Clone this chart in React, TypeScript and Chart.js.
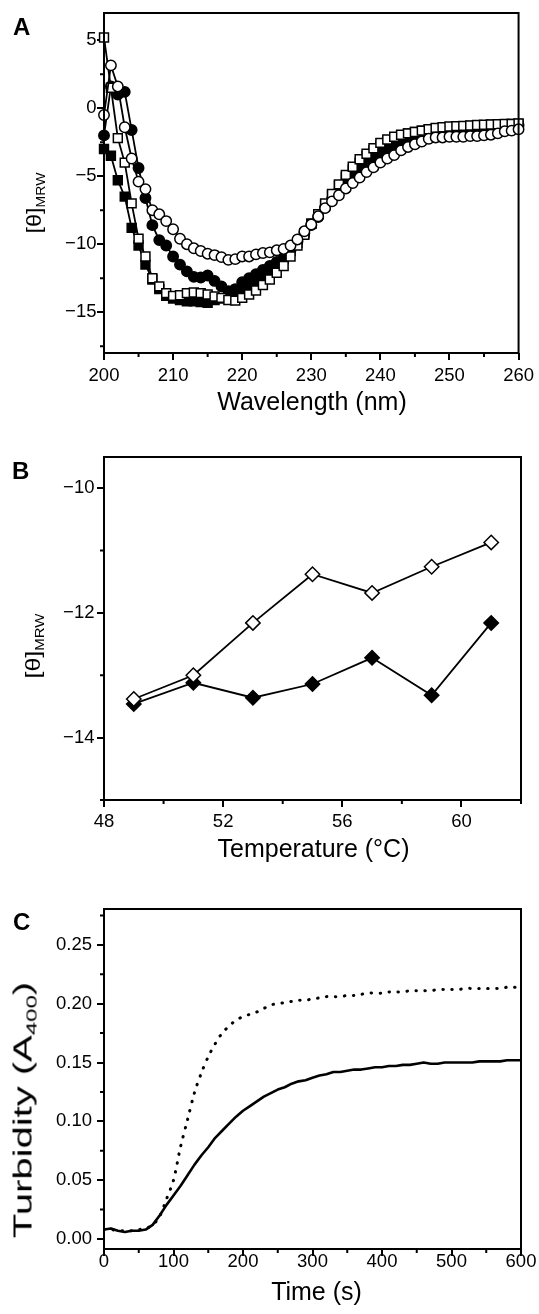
import React, { useEffect, useRef } from 'react';
import { Chart, registerables } from 'chart.js';

Chart.register(...registerables);

// ---------------- Panel A data ----------------
const WAVELENGTH = [
  200, 201, 202, 203, 204, 205, 206, 207, 208, 209,
  210, 211, 212, 213, 214, 215, 216, 217, 218, 219,
  220, 221, 222, 223, 224, 225, 226, 227, 228, 229,
  230, 231, 232, 233, 234, 235, 236, 237, 238, 239,
  240, 241, 242, 243, 244, 245, 246, 247, 248, 249,
  250, 251, 252, 253, 254, 255, 256, 257, 258, 259, 260,
];
const OPEN_CIRCLES = [
  -0.5, 3.15, 1.6, -1.4, -3.7, -5.4, -5.95, -7.5, -7.8, -8.3,
  -8.9, -9.6, -10.0, -10.3, -10.5, -10.7, -10.8, -10.95, -11.15, -11.1,
  -10.9, -10.9, -10.75, -10.65, -10.6, -10.45, -10.35, -10.1, -9.65, -9.05,
  -8.55, -7.95, -7.35, -6.85, -6.4, -5.9, -5.5, -5.1, -4.7, -4.35,
  -4.0, -3.7, -3.45, -3.1, -2.85, -2.65, -2.45, -2.25, -2.15, -2.15,
  -2.1, -2.1, -2.1, -2.05, -2.05, -2.0, -1.95, -1.85, -1.7, -1.65, -1.55,
];
const FILLED_CIRCLES = [
  -2.0, 1.6, 1.0, 1.2, -1.6, -4.4, -6.6, -8.6, -9.7, -10.1,
  -10.9, -11.5, -12.0, -12.4, -12.45, -12.3, -12.7, -13.1, -13.45, -13.3,
  -12.8, -12.5, -12.2, -11.9, -11.6, -11.3, -11.0, -10.4, -9.8, -9.2,
  -8.6, -8.0, -7.3, -6.7, -6.1, -5.5, -5.0, -4.5, -4.1, -3.7,
  -3.4, -3.1, -2.8, -2.6, -2.4, -2.2, -2.0, -1.9, -1.8, -1.7,
  -1.6, -1.55, -1.5, -1.5, -1.45, -1.4, -1.4, -1.35, -1.3, -1.3, -1.25,
];
const OPEN_SQUARES = [
  5.2, 1.5, -2.2, -4.0, -7.0, -9.6, -10.9, -12.5, -13.1, -13.6,
  -13.8, -13.75, -13.6, -13.55, -13.6, -13.7, -13.85, -13.95, -14.1, -14.15,
  -13.95, -13.7, -13.4, -13.0, -12.6, -12.1, -11.6, -10.9, -10.1, -9.3,
  -8.5, -7.8, -7.0, -6.3, -5.6, -4.9, -4.3, -3.75, -3.35, -2.95,
  -2.55, -2.3, -2.1, -1.95, -1.85, -1.75, -1.65, -1.55, -1.45, -1.4,
  -1.35, -1.32, -1.3, -1.27, -1.24, -1.22, -1.2, -1.18, -1.16, -1.15, -1.12,
];
const FILLED_SQUARES = [
  -3.0, -3.5, -5.3, -6.5, -8.8, -10.1, -11.5, -12.6, -13.3, -13.8,
  -14.0, -14.1, -14.2, -14.2, -14.25, -14.3, -14.1, -14.0, -13.9, -13.7,
  -13.4, -13.1, -12.8, -12.4, -12.0, -11.6, -11.1, -10.5, -9.9, -9.2,
  -8.5, -7.8, -7.1, -6.4, -5.7, -5.1, -4.5, -4.0, -3.5, -3.1,
  -2.75, -2.45, -2.2, -2.0, -1.85, -1.75, -1.65, -1.55, -1.5, -1.45,
  -1.4, -1.35, -1.32, -1.3, -1.28, -1.25, -1.22, -1.2, -1.18, -1.16, -1.15,
];
const A_X_TICKS = [200, 210, 220, 230, 240, 250, 260];
const A_X_MINOR = [205, 215, 225, 235, 245, 255];
const A_Y_TICKS = [-15, -10, -5, 0, 5];
const A_Y_MINOR = [-17.5, -12.5, -7.5, -2.5, 2.5];

// ---------------- Panel B data ----------------
const TEMPERATURE = [49, 51, 53, 55, 57, 59, 61];
const OPEN_DIAMONDS = [-13.38, -13.0, -12.16, -11.38, -11.68, -11.26, -10.87];
const FILLED_DIAMONDS = [-13.46, -13.12, -13.36, -13.14, -12.72, -13.32, -12.16];
const B_X_TICKS = [48, 52, 56, 60];
const B_X_MINOR = [50, 54, 58, 62];
const B_Y_TICKS = [-14, -12, -10];
const B_Y_MINOR = [-15, -13, -11];

// ---------------- Panel C data ----------------
const TIME = [
  0, 10, 20, 30, 40, 50, 60, 70, 80, 90,
  100, 110, 120, 130, 140, 150, 160, 170, 180, 190,
  200, 210, 220, 230, 240, 250, 260, 270, 280, 290,
  300, 310, 320, 330, 340, 350, 360, 370, 380, 390,
  400, 410, 420, 430, 440, 450, 460, 470, 480, 490,
  500, 510, 520, 530, 540, 550, 560, 570, 580, 590, 600,
];
const TURBIDITY_SOLID = [
  0.008, 0.009, 0.007, 0.006, 0.007, 0.007, 0.008, 0.012, 0.020, 0.029,
  0.037, 0.045, 0.054, 0.063, 0.071, 0.078, 0.086, 0.092, 0.098, 0.104,
  0.109, 0.113, 0.117, 0.121, 0.124, 0.127, 0.129, 0.132, 0.134, 0.135,
  0.137, 0.139, 0.140, 0.142, 0.142, 0.143, 0.144, 0.144, 0.145, 0.146,
  0.146, 0.147, 0.147, 0.148, 0.148, 0.149, 0.150, 0.149, 0.149, 0.150,
  0.150, 0.150, 0.150, 0.150, 0.151, 0.151, 0.151, 0.151, 0.152, 0.152, 0.152,
];
const TURBIDITY_DOTTED = [
  0.008, 0.008, 0.007, 0.007, 0.007, 0.008, 0.009, 0.012, 0.019, 0.034,
  0.050, 0.078, 0.101, 0.124, 0.141, 0.155, 0.166, 0.175, 0.181, 0.186,
  0.189, 0.191, 0.193, 0.196, 0.199, 0.200, 0.201, 0.202, 0.203, 0.203,
  0.204, 0.205, 0.206, 0.206, 0.206, 0.207, 0.207, 0.208, 0.209, 0.209,
  0.209, 0.210, 0.210, 0.210, 0.211, 0.211, 0.211, 0.211, 0.212, 0.212,
  0.212, 0.212, 0.213, 0.213, 0.213, 0.213, 0.213, 0.213, 0.214, 0.214, 0.214,
];
const C_X_TICKS = [0, 100, 200, 300, 400, 500, 600];
const C_X_MINOR = [50, 150, 250, 350, 450, 550];
const C_Y_TICKS = [0, 0.05, 0.1, 0.15, 0.2, 0.25];
const C_Y_MINOR = [0.025, 0.075, 0.125, 0.175, 0.225, 0.275];

// ---------------- helpers ----------------
const FONT = '"Liberation Sans", Arial, Helvetica, sans-serif';
const TICK_FONT = { family: FONT, size: 18.5 };
const W = 539;

const minusFmt = (v: number) => (v < 0 ? '\u2212' + Math.abs(v) : String(v));

const GRID = {
  display: true,
  drawOnChartArea: false,
  drawTicks: true,
  tickLength: 7,
  tickWidth: 2,
  tickColor: '#000',
  color: '#000',
  lineWidth: 2,
};

function makeFrame(xMinor: number[], yMinor: number[]) {
  return {
    id: 'frameMinor',
    afterDatasetsDraw(chart: any) {
      const { ctx, chartArea: a, scales } = chart;
      ctx.save();
      ctx.strokeStyle = '#000';
      ctx.lineWidth = 2;
      ctx.strokeRect(a.left, a.top, a.right - a.left, a.bottom - a.top);
      ctx.beginPath();
      for (const v of xMinor) {
        const p = scales.x.getPixelForValue(v);
        ctx.moveTo(p, a.bottom);
        ctx.lineTo(p, a.bottom + 4);
      }
      for (const v of yMinor) {
        const p = scales.y.getPixelForValue(v);
        ctx.moveTo(a.left, p);
        ctx.lineTo(a.left - 4, p);
      }
      ctx.stroke();
      ctx.restore();
    },
  };
}

function xScale(min: number, max: number, ticks: number[], fmt: (v: number) => string, axisH: number, pad: number) {
  return {
    type: 'linear',
    position: 'bottom',
    min,
    max,
    afterBuildTicks: (s: any) => {
      s.ticks = ticks.map((v) => ({ value: v }));
    },
    afterFit: (s: any) => {
      s.height = axisH;
    },
    ticks: { callback: (v: any) => fmt(Number(v)), font: TICK_FONT, color: '#000', padding: pad, maxRotation: 0, autoSkip: false },
    grid: GRID,
    border: { display: false },
  };
}

function yScale(min: number, max: number, ticks: number[], fmt: (v: number) => string, pad: number) {
  return {
    type: 'linear',
    position: 'left',
    min,
    max,
    afterBuildTicks: (s: any) => {
      s.ticks = ticks.map((v) => ({ value: v }));
    },
    afterFit: (s: any) => {
      s.width = 104;
    },
    ticks: { callback: (v: any) => fmt(Number(v)), font: TICK_FONT, color: '#000', padding: pad, autoSkip: false },
    grid: GRID,
    border: { display: false },
  };
}

function baseOptions(padTop: number) {
  return {
    animation: false,
    responsive: false,
    events: [],
    layout: { padding: { top: padTop, right: W - 521, left: 0, bottom: 0 } },
    plugins: { legend: { display: false }, tooltip: { enabled: false } },
  };
}

function ChartCanvas({ top, height, make }: { top: number; height: number; make: () => any }) {
  const ref = useRef<HTMLCanvasElement>(null);
  useEffect(() => {
    const chart = new Chart(ref.current as HTMLCanvasElement, make());
    return () => chart.destroy();
  }, []);
  return (
    <canvas
      ref={ref}
      width={W}
      height={height}
      style={{ position: 'absolute', left: 0, top, width: W, height, display: 'block' }}
    />
  );
}

const pts = (xs: number[], ys: number[]) => xs.map((x, i) => ({ x, y: ys[i] }));

function makeA() {
  const common = { showLine: true, borderColor: '#000', borderWidth: 1.8, pointBorderColor: '#000', pointBorderWidth: 1.5, tension: 0, fill: false, clip: 8 };
  return {
    type: 'scatter',
    data: {
      datasets: [
        { ...common, data: pts(WAVELENGTH, OPEN_CIRCLES), pointStyle: 'circle', pointRadius: 5.2, pointBackgroundColor: '#fff' },
        { ...common, data: pts(WAVELENGTH, OPEN_SQUARES), pointStyle: 'rect', pointRadius: 6.3, pointBackgroundColor: '#fff' },
        { ...common, data: pts(WAVELENGTH, FILLED_CIRCLES), pointStyle: 'circle', pointRadius: 5.2, pointBackgroundColor: '#000' },
        { ...common, data: pts(WAVELENGTH, FILLED_SQUARES), pointStyle: 'rect', pointRadius: 6.3, pointBackgroundColor: '#000' },
      ],
    },
    options: {
      ...baseOptions(13),
      scales: {
        x: xScale(200, 260, A_X_TICKS, minusFmt, 400 - 353, 5),
        y: yScale(-18, 7, A_Y_TICKS, minusFmt, 0.5),
      },
    },
    plugins: [makeFrame(A_X_MINOR, A_Y_MINOR)],
  };
}

function makeB() {
  const common = { showLine: true, borderColor: '#000', borderWidth: 1.8, pointBorderColor: '#000', pointBorderWidth: 1.5, tension: 0, fill: false, pointStyle: 'rectRot', pointRadius: 7.2 };
  return {
    type: 'scatter',
    data: {
      datasets: [
        { ...common, data: pts(TEMPERATURE, OPEN_DIAMONDS), pointBackgroundColor: '#fff' },
        { ...common, data: pts(TEMPERATURE, FILLED_DIAMONDS), pointBackgroundColor: '#000' },
      ],
    },
    options: {
      ...baseOptions(17),
      scales: {
        x: xScale(48, 62, B_X_TICKS, minusFmt, 400 - 360, 3.5),
        y: yScale(-15, -9.5, B_Y_TICKS, minusFmt, 2.5),
      },
    },
    plugins: [makeFrame(B_X_MINOR, B_Y_MINOR)],
  };
}

function makeC() {
  return {
    type: 'scatter',
    data: {
      datasets: [
        { data: pts(TIME, TURBIDITY_SOLID), showLine: true, borderColor: '#000', borderWidth: 2.6, pointRadius: 0, tension: 0, fill: false, borderJoinStyle: 'round' },
        { data: pts(TIME, TURBIDITY_DOTTED), showLine: true, borderColor: '#000', borderWidth: 3, borderDash: [0.5, 8.5], borderCapStyle: 'round', pointRadius: 0, tension: 0.3, fill: false },
      ],
    },
    options: {
      ...baseOptions(29),
      scales: {
        x: xScale(0, 600, C_X_TICKS, (v) => String(v), 434 - 369, -5),
        y: yScale(-0.0085, 0.2805, C_Y_TICKS, (v) => v.toFixed(2), 5),
      },
    },
    plugins: [makeFrame(C_X_MINOR, C_Y_MINOR)],
  };
}

// ---------------- HTML text helpers ----------------
function Letter({ x, y, text }: { x: number; y: number; text: string }) {
  return (
    <div style={{ position: 'absolute', left: x, top: y, font: `bold 24px ${FONT}`, lineHeight: '24px', color: '#000' }}>
      {text}
    </div>
  );
}

function XTitle({ cx, top, children }: { cx: number; top: number; children: any }) {
  return (
    <div
      style={{
        position: 'absolute',
        left: cx,
        top,
        transform: 'translateX(-50%)',
        whiteSpace: 'nowrap',
        fontFamily: FONT,
        fontSize: 25,
        lineHeight: '25px',
        color: '#000',
      }}
    >
      {children}
    </div>
  );
}

function YTitle({ cx, cy, size, stretch, children }: { cx: number; cy: number; size: number; stretch: number; children: any }) {
  return (
    <div
      style={{
        position: 'absolute',
        left: cx,
        top: cy,
        transform: `translate(-50%, -50%) rotate(-90deg) scaleX(${stretch})`,
        whiteSpace: 'nowrap',
        fontFamily: FONT,
        fontSize: size,
        lineHeight: `${size}px`,
        color: '#000',
      }}
    >
      {children}
    </div>
  );
}

const Sub = ({ children }: { children: any }) => (
  <span style={{ fontSize: '0.6em', position: 'relative', top: '0.35em', lineHeight: 0 }}>{children}</span>
);

export default function App() {
  return (
    <div style={{ position: 'absolute', left: 0, top: 0, width: W, height: 1314, overflow: 'hidden', background: '#fff' }}>
      <ChartCanvas top={0} height={400} make={makeA} />
      <ChartCanvas top={440} height={400} make={makeB} />
      <ChartCanvas top={880} height={434} make={makeC} />

      <Letter x={13} y={15} text="A" />
      <Letter x={12} y={459} text="B" />
      <Letter x={13} y={910} text="C" />

      <YTitle cx={34.4} cy={202.5} size={20} stretch={1.17}>
        [θ]<Sub>MRW</Sub>
      </YTitle>
      <YTitle cx={32.7} cy={645.5} size={20} stretch={1.25}>
        [θ]<Sub>MRW</Sub>
      </YTitle>
      <YTitle cx={22.5} cy={1110} size={25} stretch={1.6}>
        Turbidity (A<Sub>400</Sub>)
      </YTitle>

      <XTitle cx={312} top={389}>Wavelength (nm)</XTitle>
      <XTitle cx={313.5} top={836}>Temperature (°C)</XTitle>
      <XTitle cx={316.5} top={1279}>Time (s)</XTitle>
    </div>
  );
}
